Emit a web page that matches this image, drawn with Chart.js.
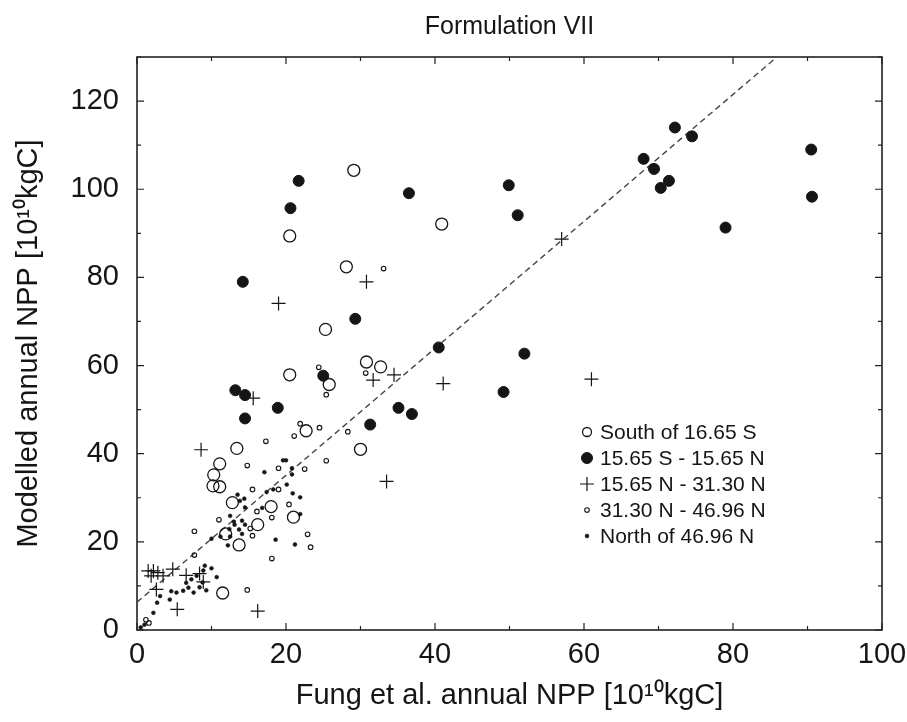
<!DOCTYPE html>
<html>
<head>
<meta charset="utf-8">
<title>Formulation VII</title>
<script src="https://cdn.jsdelivr.net/npm/chart.js@4.4.0/dist/chart.umd.min.js"></script>
<style>
  body { margin: 0; background: #fff; }
  #wrap { width: 907px; height: 722px; }
</style>
</head>
<body>
<div id="wrap"><canvas id="nppChart" width="907" height="722"></canvas></div>
<script>
// Values: [Fung et al. NPP, modelled NPP], units 10^10 kgC
const southPts = [
  [29.1,104.3],[20.5,89.4],[28.1,82.4],[25.3,68.2],[20.5,57.9],[30.8,60.8],[32.7,59.7],
  [25.8,55.7],[40.9,92.1],[30.0,41.0],[22.7,45.2],[13.4,41.2],[11.1,37.7],[10.3,35.2],
  [10.2,32.7],[11.1,32.5],[12.8,28.9],[18.0,28.0],[21.0,25.6],[16.2,23.9],[11.9,21.8],
  [13.7,19.3],[11.5,8.4]
];
const equatorPts = [
  [21.7,101.9],[20.6,95.7],[14.2,79.0],[29.3,70.6],[36.5,99.1],[49.9,100.9],[51.1,94.1],
  [40.5,64.1],[52.0,62.7],[49.2,54.0],[68.0,106.9],[72.2,114.0],[74.5,112.0],[69.4,104.6],
  [71.4,101.9],[70.3,100.3],[90.5,109.0],[90.6,98.3],[79.0,91.3],[13.2,54.4],[14.5,53.3],
  [14.5,48.0],[18.9,50.4],[25.0,57.7],[35.1,50.4],[36.9,49.0],[31.3,46.6]
];
const subtropPts = [
  [19.0,74.1],[30.8,79.0],[31.7,56.7],[34.5,57.9],[41.1,55.9],[57.0,88.7],[61.0,56.9],
  [33.5,33.7],[15.6,52.6],[8.6,40.9],[16.2,4.3],[5.4,4.7],[1.5,13.4],[2.2,13.4],[1.9,12.3],
  [2.8,13.0],[3.5,12.3],[4.8,13.8],[6.6,12.4],[8.4,12.8],[2.6,9.2],[8.9,10.9]
];
const midlatPts = [
  [33.1,82.0],[30.7,58.3],[24.4,59.6],[25.4,53.4],[21.9,46.8],[21.1,44.0],[24.5,45.9],
  [28.3,45.0],[25.4,38.4],[17.3,42.8],[14.8,37.3],[19.0,36.7],[22.5,36.5],[19.0,31.9],
  [15.5,31.9],[16.1,26.9],[20.4,28.5],[18.1,25.5],[11.0,25.0],[15.2,23.0],[15.5,21.4],
  [7.7,22.4],[22.9,21.7],[23.3,18.8],[18.1,16.2],[14.8,9.1],[7.7,17.0],[1.2,2.3],[1.6,1.6]
];
const northPts = [
  [17.1,35.8],[19.6,38.5],[20.0,38.5],[20.8,36.7],[20.8,35.3],[20.1,33.0],[18.3,31.9],
  [17.4,31.3],[20.9,31.0],[21.9,30.1],[13.5,30.7],[13.8,29.3],[14.5,27.8],[14.4,29.8],
  [16.8,27.7],[21.9,26.3],[12.5,25.9],[13.0,24.6],[13.1,23.9],[14.1,24.8],[14.5,23.9],
  [12.4,22.9],[13.7,22.8],[14.1,21.8],[12.5,21.2],[11.2,21.2],[10.0,20.7],[12.2,19.2],
  [18.6,20.5],[21.2,19.4],[9.1,14.6],[8.9,13.5],[8.0,12.3],[7.3,11.5],[6.6,10.7],[6.9,9.6],
  [7.6,8.5],[8.4,9.7],[8.8,10.8],[9.3,9.0],[6.2,8.9],[5.3,8.5],[4.6,8.8],[4.4,6.9],[3.1,7.7],
  [2.7,6.2],[2.2,3.9],[10.7,12.0],[10.0,14.0],[0.5,0.6],[1.0,1.2]
];
// dashed regression line end points
const fitX = [0, 85.9];
const fitY = [6.3, 130];

const seriesLabels = ['South of 16.65 S', '15.65 S - 15.65 N', '15.65 N - 31.30 N',
  '31.30 N - 46.96 N', 'North of 46.96 N'];
const xTitle = 'Fung et al. annual NPP [10\u00B9\u2070kgC]';
const yTitle = 'Modelled annual NPP [10\u00B9\u2070kgC]';
const chartTitle = 'Formulation VII';

const FONT = '"Liberation Sans", Arial, Helvetica, sans-serif';
const INK = '#151515';

const toXY = pts => pts.map(p => ({ x: p[0], y: p[1] }));

const styles = [
  { pointStyle: 'circle', radius: 6, borderWidth: 1.3, fill: 'rgba(255,255,255,0)' },
  { pointStyle: 'circle', radius: 5.5, borderWidth: 1, fill: INK },
  { pointStyle: 'cross', radius: 7, borderWidth: 1.2, fill: INK },
  { pointStyle: 'circle', radius: 2.3, borderWidth: 1.1, fill: 'rgba(255,255,255,0)' },
  { pointStyle: 'circle', radius: 1.9, borderWidth: 0.6, fill: INK }
];

const groups = [southPts, equatorPts, subtropPts, midlatPts, northPts];
const datasets = groups.map((pts, i) => ({
  label: seriesLabels[i],
  data: toXY(pts),
  pointStyle: styles[i].pointStyle,
  pointRadius: styles[i].radius,
  pointBorderWidth: styles[i].borderWidth,
  pointBorderColor: INK,
  pointBackgroundColor: styles[i].fill,
  showLine: false
}));
datasets.push({
  label: 'fit',
  data: fitX.map((x, i) => ({ x: x, y: fitY[i] })),
  showLine: true,
  borderColor: '#444',
  borderWidth: 1.4,
  borderDash: [6, 4],
  pointRadius: 0
});

// frame with inward ticks on all four sides
const frameTicks = {
  id: 'frameTicks',
  beforeDatasetsDraw(chart) {
    const { ctx, chartArea: a, scales: { x, y } } = chart;
    ctx.save();
    ctx.strokeStyle = '#222';
    ctx.lineWidth = 1.2;
    x.ticks.forEach(t => {
      const px = x.getPixelForValue(t.value);
      const len = t.value % 20 === 0 ? 7 : 4;
      ctx.beginPath();
      ctx.moveTo(px, a.bottom); ctx.lineTo(px, a.bottom - len);
      ctx.moveTo(px, a.top); ctx.lineTo(px, a.top + len);
      ctx.stroke();
    });
    y.ticks.forEach(t => {
      const py = y.getPixelForValue(t.value);
      const len = t.value % 20 === 0 ? 7 : 4;
      ctx.beginPath();
      ctx.moveTo(a.left, py); ctx.lineTo(a.left + len, py);
      ctx.moveTo(a.right, py); ctx.lineTo(a.right - len, py);
      ctx.stroke();
    });
    ctx.lineWidth = 1.6;
    ctx.strokeRect(a.left, a.top, a.right - a.left, a.bottom - a.top);
    ctx.restore();
  }
};

// legend drawn inside the plot area
const innerLegend = {
  id: 'innerLegend',
  afterDatasetsDraw(chart) {
    const { ctx, chartArea: a } = chart;
    const symX = a.left + 450, textX = a.left + 463, y0 = a.top + 375, step = 26;
    const legendStyles = [
      { style: 'circle', r: 4.5 }, { style: 'circle', r: 5.5 }, { style: 'cross', r: 7 },
      { style: 'circle', r: 2.3 }, { style: 'circle', r: 1.9 }
    ];
    ctx.save();
    ctx.font = '21px ' + FONT;
    ctx.textBaseline = 'middle';
    ctx.textAlign = 'left';
    seriesLabels.forEach((label, i) => {
      const yy = y0 + i * step;
      ctx.strokeStyle = INK;
      ctx.fillStyle = styles[i].fill;
      ctx.lineWidth = styles[i].borderWidth;
      Chart.helpers.drawPoint(ctx, {
        pointStyle: legendStyles[i].style,
        radius: legendStyles[i].r,
        borderWidth: styles[i].borderWidth
      }, symX, yy);
      ctx.fillStyle = INK;
      ctx.fillText(label, textX, yy + 1);
    });
    ctx.restore();
  }
};

new Chart(document.getElementById('nppChart'), {
  type: 'scatter',
  data: { datasets: datasets },
  plugins: [frameTicks, innerLegend],
  options: {
    responsive: false,
    animation: false,
    layout: { padding: { left: 0, right: 25, top: 0, bottom: 0 } },
    plugins: {
      legend: { display: false },
      tooltip: { enabled: false },
      title: {
        display: true,
        text: chartTitle,
        fullSize: false,
        color: INK,
        font: { family: FONT, size: 25, weight: 'normal' },
        padding: { top: 12, bottom: 15 }
      }
    },
    scales: {
      x: {
        type: 'linear',
        min: 0, max: 100,
        grid: { display: false, drawTicks: false },
        border: { display: false },
        afterFit: s => { s.height = 92; s.paddingLeft = 0; s.paddingRight = 0; },
        ticks: {
          stepSize: 10,
          autoSkip: false,
          maxRotation: 0,
          padding: 8,
          color: INK,
          font: { family: FONT, size: 29 },
          callback: v => (v % 20 === 0 ? v : '')
        },
        title: {
          display: true,
          text: xTitle,
          color: INK,
          font: { family: FONT, size: 29 },
          padding: { top: 0, bottom: 9 }
        }
      },
      y: {
        type: 'linear',
        min: 0, max: 130,
        grid: { display: false, drawTicks: false },
        border: { display: false },
        afterFit: s => { s.width = 137; },
        ticks: {
          stepSize: 10,
          autoSkip: false,
          padding: 18,
          color: INK,
          font: { family: FONT, size: 29 },
          callback: v => (v % 20 === 0 && v <= 120 ? v : '')
        },
        title: {
          display: true,
          text: yTitle,
          color: INK,
          font: { family: FONT, size: 29 },
          padding: { top: 12, bottom: 0 }
        }
      }
    }
  }
});
</script>
</body>
</html>
